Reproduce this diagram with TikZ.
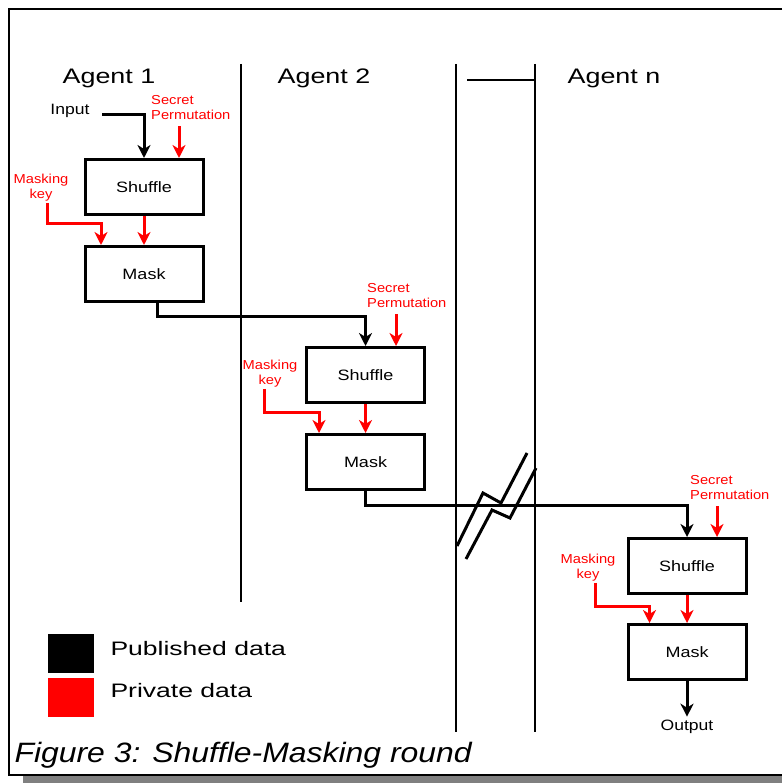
\documentclass[tikz,border=0pt]{standalone}
\usepackage{fontspec}
\setmainfont{Liberation Sans}
\usepackage{xcolor}
\usepackage{tikz}
\usetikzlibrary{arrows.meta,positioning,calc}

\newcommand{\wfont}[2]{\fontsize{#1}{#1}\selectfont\addfontfeature{FakeStretch=#2}}

\begin{document}
\begin{tikzpicture}[x=1pt, y=-1pt,
    block/.style={rectangle, draw, line width=3pt, minimum width=118pt, minimum height=55pt, font=\wfont{15}{1.2}},
    pub/.style={draw, line width=3pt, -{Stealth[length=13pt, width=13pt, inset=4pt]}},
    priv/.style={pub, red},
    agent/.style={font=\wfont{21}{1.28}},
    plain/.style={font=\wfont{15}{1.17}},
    secret/.style={text=red, align=left, anchor=west, inner sep=1pt, font=\fontsize{13}{15}\selectfont\addfontfeature{FakeStretch=1.13}},
    keylabel/.style={text=red, align=center, inner sep=1pt, font=\fontsize{13}{15}\selectfont\addfontfeature{FakeStretch=1.13}},
    legend/.style={anchor=west, font=\wfont{19.5}{1.36}},
    divider/.style={draw, line width=1.5pt}]

    \useasboundingbox (0,0) rectangle (782,783);
    \fill[gray] (23,776) rectangle (782,783);
    \draw[line width=1.5pt] (782,9) -| (9,775) -- (782,775);

    \node [agent] (agent1) at (109,78) {Agent 1};
    \node [agent] (agent2) at (324,78) {Agent 2};
    \node [agent] (agentn) at (614,78) {Agent n};

    \draw [divider] (241,64) -- (241,602);
    \draw [divider] (456,64) -- (456,732);
    \draw [divider] (535,64) -- (535,732);
    \draw [line width=2.5pt] (467,80) -- (535,80);

    % agent 1
    \node [block] (shuffle1) at (144,187) {Shuffle};
    \node [block, below=29pt of shuffle1] (mask1) {Mask};
    \node [plain] (input) at (70,111) {Input};
    \coordinate (in1) at (102,115);
    \node [secret] (secret1) at (150,108) {Secret\\Permutation};
    \node [keylabel] (key1) at (41,188) {Masking\\key};
    \coordinate (sp1) at ([xshift=35pt]shuffle1.north);
    \coordinate (kp1) at (47,0);

    \draw [pub] (in1) -| (shuffle1.north);
    \draw [priv] ([yshift=-5pt]secret1.south -| sp1) -- (sp1);
    \draw [priv] (key1.south -| kp1) |- ($(mask1.north)+(-43,-21)$) -- ([xshift=-43pt]mask1.north);
    \draw [priv] (shuffle1.south) -- (mask1.north);

    % agent 2
    \node [block] (shuffle2) at (365.5,375) {Shuffle};
    \node [block, below=29pt of shuffle2] (mask2) {Mask};
    \node [secret] (secret2) at (366,296) {Secret\\Permutation};
    \node [keylabel] (key2) at (270,374) {Masking\\key};
    \coordinate (sp2) at ([xshift=30.5pt]shuffle2.north);
    \coordinate (kp2) at (264,0);

    \draw [pub] ([xshift=13pt]mask1.south) -- ++(0,13) -| (shuffle2.north);
    \draw [priv] ([yshift=-5pt]secret2.south -| sp2) -- (sp2);
    \draw [priv] (key2.south -| kp2) |- ($(mask2.north)+(-46.5,-21)$) -- ([xshift=-46.5pt]mask2.north);
    \draw [priv] (shuffle2.south) -- (mask2.north);

    % agent n
    \node [block] (shufflen) at (687,566) {Shuffle};
    \node [block, below=28pt of shufflen] (maskn) {Mask};
    \node [secret] (secretn) at (689,488) {Secret\\Permutation};
    \node [keylabel] (keyn) at (588,568) {Masking\\key};
    \node [plain] (output) at (687,727) {Output};
    \coordinate (spn) at ([xshift=30pt]shufflen.north);
    \coordinate (kpn) at (595,0);

    \draw [pub] (mask2.south) -- ++(0,14) -| (shufflen.north);
    \draw [priv] ([yshift=-5pt]secretn.south -| spn) -- (spn);
    \draw [priv] (keyn.south -| kpn) |- ($(maskn.north)+(-37.5,-17)$) -- ([xshift=-37.5pt]maskn.north);
    \draw [priv] (shufflen.south) -- (maskn.north);
    \draw [pub] (maskn.south) -- (output.north);

    % break mark
    \draw [line width=3pt] (457,546) -- (483,493) -- (501,503) -- (527,453);
    \draw [line width=3pt] (466,559) -- (492,510) -- (510,518) -- (536,468);

    % legend
    \node [fill=black, minimum width=46pt, minimum height=39pt, inner sep=0pt, anchor=north west] (pubbox) at (48,634) {};
    \node [fill=red, minimum width=46pt, minimum height=39pt, inner sep=0pt, below=4pt of pubbox] (privbox) {};
    \node [legend] (publabel) at (107,649) {Published data};
    \node [legend] (privlabel) at (107,691) {Private data};

    \node [anchor=base west, font=\fontsize{28}{32}\selectfont\itshape\addfontfeature{FakeStretch=1.14}] (caption) at (11,762) {Figure 3: Shuffle-Masking round};
\end{tikzpicture}
\end{document}
